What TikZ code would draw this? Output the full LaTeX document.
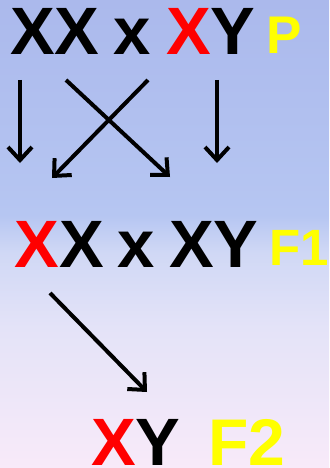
\documentclass[tikz,border=0pt]{standalone}
\usepackage{fontspec}
\setmainfont{Liberation Sans}
\usepackage{xcolor}
\usetikzlibrary{arrows.meta,positioning}
\definecolor{skytop}{HTML}{ABB9EC}
\definecolor{skymid}{HTML}{B6C6F2}
\definecolor{skylight}{HTML}{D0D8F5}
\definecolor{skylow}{HTML}{E4E3F8}
\definecolor{skybottom}{HTML}{F8EAF9}
\definecolor{genered}{HTML}{FF0000}
\definecolor{genyellow}{HTML}{FFFF00}
\pgfdeclareverticalshading{skyfade}{100bp}{
  color(0bp)=(skybottom); color(25bp)=(skybottom); color(40bp)=(skylow);
  color(48bp)=(skylight); color(52bp)=(skymid);
  color(75bp)=(skytop); color(100bp)=(skytop)}

\begin{document}
\begin{tikzpicture}[
    x=1pt,y=-1pt,
    gene/.style={anchor=base west,inner sep=0pt,font=\fontsize{67}{67}\selectfont\bfseries},
    gen/.style={anchor=base west,inner sep=0pt,text=genyellow,font=\fontsize{53}{53}\selectfont\bfseries},
    arrow/.style={-{Straight Barb[length=13pt,width=24pt]},line width=4pt}
  ]
    \useasboundingbox (0,0) rectangle (329,468);
    \shade[shading=skyfade] (0,0) rectangle (329,468);

    % parents
    \node[gene] (p1) at (10,55) {XX};
    \node[gene] (px) at (113,55) {x};
    \node[gene] (p2) at (166,55) {\textcolor{genered}{X}Y};
    \node[gen] (lp) at (266,54) {P};

    % first generation
    \node[gene] (f1a) at (14.5,267) {\textcolor{genered}{X}X};
    \node[gene] (f1x) at (117,267) {x};
    \node[gene] (f1b) at (169,267) {XY};
    \node[gen,font=\fontsize{51}{51}\selectfont\bfseries] (lf1) at (269,265) {F1};

    % second generation
    \node[gene] (f2) at (91,465) {\textcolor{genered}{X}Y};
    \node[gen,font=\fontsize{66}{66}\selectfont\bfseries] (lf2) at (208,465) {F2};

    \coordinate (a1) at (20,80);   \coordinate (b1) at (20,163);
    \coordinate (a2) at (148,80);  \coordinate (b2) at (52,178);
    \coordinate (a3) at (66,80);   \coordinate (b3) at (170,177);
    \coordinate (a4) at (217,80);  \coordinate (b4) at (217,163);
    \coordinate (a5) at (50,293);  \coordinate (b5) at (147,392);

    \draw[arrow] (a1) -- (b1);
    \draw[arrow] (a2) -- (b2);
    \draw[arrow] (a3) -- (b3);
    \draw[arrow] (a4) -- (b4);
    \draw[arrow] (a5) -- (b5);
  \end{tikzpicture}
\end{document}
